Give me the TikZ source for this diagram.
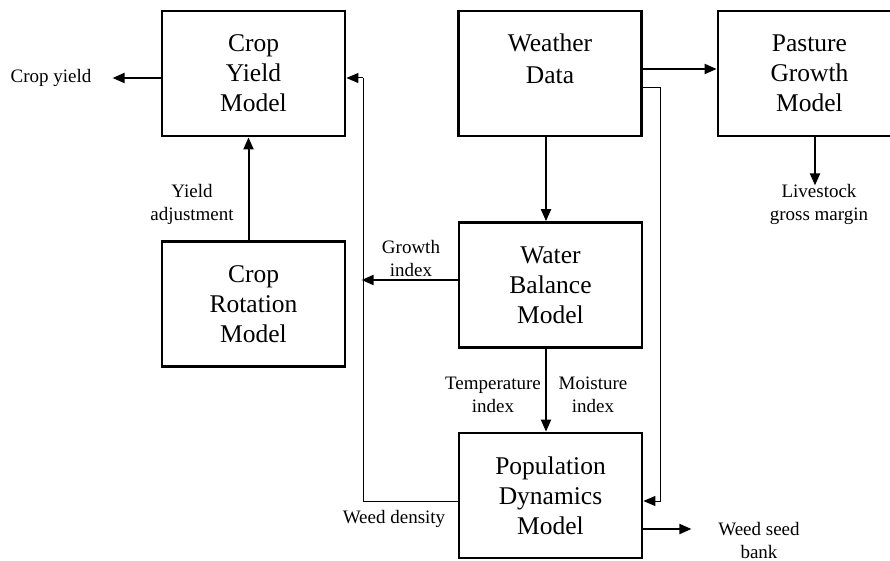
\documentclass[tikz,border=0pt]{standalone}
\usepackage{fontspec}
\setmainfont{Liberation Serif}
\usetikzlibrary{arrows.meta}
\begin{document}
\begin{tikzpicture}[x=1pt,y=-1pt,
  model/.style={draw, line width=2.8pt, minimum width=183pt, minimum height=125pt,
    inner sep=0pt, align=center, font=\fontsize{25.5}{30}\selectfont},
  lbl/.style={align=center, inner sep=0pt, font=\fontsize{19}{23}\selectfont},
  tip/.style={-{Triangle[length=12pt,width=10pt]}},
  flow/.style={line width=2pt, tip},
  feed/.style={line width=1pt}]
\useasboundingbox (0,0) rectangle (890,561);

% model boxes
\node[model] (cym) at (253.5,73.5) {Crop\\Yield\\Model};
\node[model] (crm) at (253.5,304)  {Crop\\Rotation\\Model};
\node[model] (wd)  at (550,73.5)   {Weather\\[2pt]Data\\\phantom{Model}};
\node[model] (pgm) at (809.5,73.5) {Pasture\\Growth\\Model};
\node[model] (wbm) at (550.5,285)  {Water\\Balance\\Model};
\node[model] (pdm) at (550.5,495.5){Population\\Dynamics\\Model};

% labels
\node[lbl] (cyl) at (51,78)      {Crop yield};
\node[lbl] (yal) at (192,204.5)  {Yield\\adjustment};
\node[lbl] (lgm) at (819,204.5)  {Livestock\\gross margin};
\node[lbl] (gil) at (411,258.5)  {Growth\\index};
\node[lbl] (til) at (493,394.5)  {Temperature\\index};
\node[lbl] (mil) at (593,394.5)  {Moisture\\index};
\node[lbl] (wdl) at (394,519)    {Weed density};
\node[lbl] (wsb) at (759,540.5)  {Weed seed\\bank};

% feedback path from population dynamics to crop yield
\coordinate (fbbot) at (363,501);
\coordinate (fbtop) at (363,78);

% main flows
\draw[flow] ([yshift=-4.5pt]cym.west) -- ([xshift=21pt]cyl.east);
\draw[flow] ([xshift=-5pt]crm.north) -- ([xshift=-5pt]cym.south);
\draw[flow] ([yshift=4.5pt]wd.east) -- ([yshift=4.5pt]pgm.west);
\draw[flow] ([xshift=-4pt]wd.south) -- ([xshift=-4.5pt]wbm.north);
\draw[flow] ([xshift=5.5pt]pgm.south) -- ++(0,48);
\draw[flow] ([yshift=5pt]wbm.west) -- ++(-96,0);
\draw[flow] ([xshift=-4.5pt]wbm.south) -- ([xshift=-4.5pt]pdm.north);
\draw[flow] ([yshift=-33.5pt]pdm.east) -- ++(48,0);

% thin connectors
\draw[feed] ([yshift=-5.5pt]pdm.west) -- (fbbot) -- (fbtop);
\draw[feed, tip] (fbtop) -- ([yshift=-4.5pt]cym.east);
\draw[feed, tip] ([yshift=-14.5pt]wd.east) -- ++(18,0) |- ([yshift=-5.5pt]pdm.east);
\end{tikzpicture}
\end{document}
